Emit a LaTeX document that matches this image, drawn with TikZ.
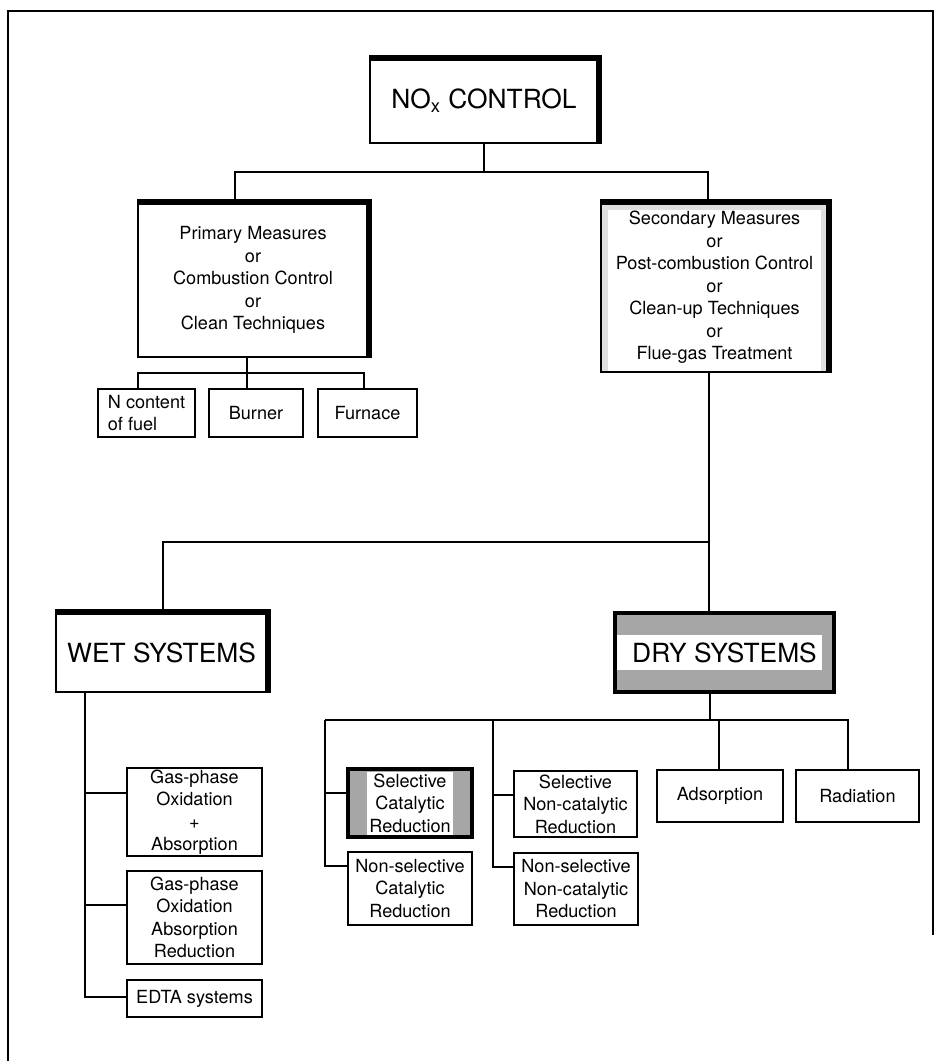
\documentclass[tikz,border=0pt]{standalone}
\usepackage{fontspec}
\setmainfont{TeX Gyre Heros}
\usepackage{tikz}
\usetikzlibrary{calc}
\newcommand\boxtxt{\fontsize{10.3}{12.8}\selectfont}
\newcommand\headtxt{\fontsize{15}{18}\selectfont}
\tikzset{
  box/.style={draw, line width=1pt, align=center, inner sep=0pt, font=\boxtxt},
  headbox/.style={box, font=\headtxt},
  sz/.style 2 args={minimum width=#1*0.02cm, minimum height=#2*0.02cm},
  link/.style={line width=1.2pt},
  shade/.style={line width=3.4pt, line join=miter},
  inset/.style={path picture={\fill[white] ([shift={(#1)}]path picture bounding box.north west) rectangle ([shift={(-#1)}]path picture bounding box.south east);}}
}
\begin{document}
\begin{tikzpicture}[x=0.02cm, y=-0.02cm]
\useasboundingbox (0,0) rectangle (941,1061);
\draw[line width=1.2pt] (8,1061) -- (8,11) -- (933,11) -- (933,935);

\node[headbox, sz={228}{84}] (nox) at (484,101) {NO\textsubscript{x} CONTROL};
\node[box, sz={230}{154}] (prim) at (253,280) {Primary Measures\\or\\Combustion Control\\or\\Clean Techniques};
\node[box, sz={227}{169}, fill=gray!25, inset={0.14cm,-0.14cm}] (sec) at (714.5,287.5) {Secondary Measures\\or\\Post-combustion Control\\or\\Clean-up Techniques\\or\\Flue-gas Treatment};
\node[box, sz={97}{48}, align=left] (ncf) at (146.5,413) {N content\\of fuel};
\node[box, sz={94}{48}] (burner) at (256,413) {Burner};
\node[box, sz={99}{48}] (furnace) at (367.5,413) {Furnace};
\node[headbox, sz={211}{79}] (wet) at (161.5,652.5) {WET SYSTEMS};
\node[headbox, sz={219}{79}, line width=2.6pt, fill=gray!70,
  path picture={\fill[white] ([shift={(0.04cm,0.35cm)}]path picture bounding box.west) rectangle ([shift={(-0.24cm,-0.35cm)}]path picture bounding box.east);}] (dry) at (724.5,652.5) {DRY SYSTEMS};
\node[box, sz={135}{88}] (gpa) at (194.5,812) {Gas-phase\\Oxidation\\+\\Absorption};
\node[box, sz={135}{93}] (gpr) at (194.5,917.5) {Gas-phase\\Oxidation\\Absorption\\Reduction};
\node[box, sz={135}{37}] (edta) at (194.5,998.5) {EDTA systems};
\node[box, sz={124}{68}, line width=2.2pt, fill=gray!70, inset={0.38cm,-0.06cm}] (scr) at (410,803) {Selective\\Catalytic\\Reduction};
\node[box, sz={124}{73}] (nscr) at (410,888.5) {Non-selective\\Catalytic\\Reduction};
\node[box, sz={123}{66}] (sncr) at (575.5,804) {Selective\\Non-catalytic\\Reduction};
\node[box, sz={124}{72}] (nsncr) at (576,889) {Non-selective\\Non-catalytic\\Reduction};
\node[box, sz={126}{52}] (ads) at (720,796) {Adsorption};
\node[box, sz={123}{52}] (rad) at (857.5,796) {Radiation};

\foreach \n in {nox,prim,sec,wet}
  \draw[shade] (\n.north west) -- (\n.north east) -- (\n.south east);

\coordinate (t1) at (235,172);
\coordinate (t2) at (708,172);
\draw[link] (nox.south) -- (nox.south |- t1);
\draw[link] (t1 |- prim.north) -- (t1) -- (t2) -- (t2 |- sec.north);

\coordinate (p1) at (138,373);
\coordinate (pc) at (247,373);
\coordinate (p2) at (364,373);
\draw[link] (pc |- prim.south) -- (pc) -- (pc |- burner.north);
\draw[link] (p1 |- ncf.north) -- (p1) -- (p2) -- (p2 |- furnace.north);

\coordinate (s1) at (163,542);
\coordinate (s2) at (709,542);
\draw[link] (s2 |- sec.south) -- (s2 |- dry.north);
\draw[link] (s1 |- wet.north) -- (s1) -- (s2);

\coordinate (wa) at (85,793);
\coordinate (wb) at (85,905);
\coordinate (wc) at (85,997);
\draw[link] (wc |- wet.south) -- (wc) -- (wc -| edta.west);
\draw[link] (wa) -- (wa -| gpa.west);
\draw[link] (wb) -- (wb -| gpr.west);

\coordinate (d0) at (710,720);
\coordinate (dl) at (325,720);
\coordinate (dm) at (493,720);
\coordinate (da) at (719,720);
\coordinate (dr) at (848,720);
\draw[link] (d0 |- dry.south) -- (d0);
\draw[link] (dl) -- (dr) -- (dr |- rad.north);
\draw[link] (da) -- (da |- ads.north);
\coordinate (dla) at (325,793);
\coordinate (dlb) at (325,866);
\draw[link] (dl) -- (dlb) -- (dlb -| nscr.west);
\draw[link] (dla) -- (dla -| scr.west);
\coordinate (dma) at (493,795);
\coordinate (dmb) at (493,867);
\draw[link] (dm) -- (dmb) -- (dmb -| nsncr.west);
\draw[link] (dma) -- (dma -| sncr.west);
\end{tikzpicture}
\end{document}
